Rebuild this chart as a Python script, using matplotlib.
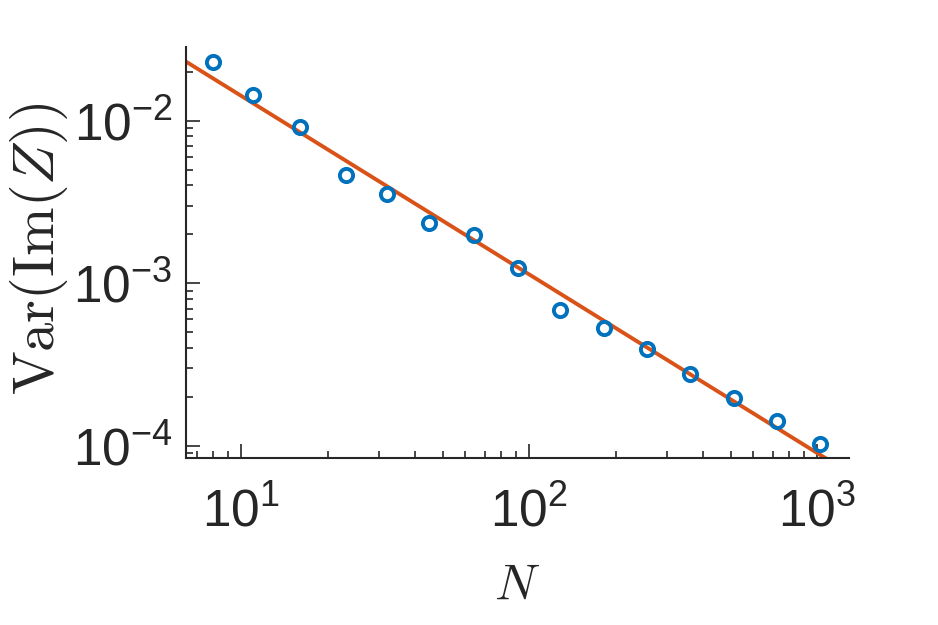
import numpy as np
import matplotlib
matplotlib.use("Agg")
import matplotlib.pyplot as plt
from matplotlib.ticker import LogLocator, NullFormatter

# --- dados ---
N = [8, 11, 16, 23, 32, 45, 64, 91, 128, 181, 256, 362, 512, 724, 1024]
var_im = [0.0229, 0.01445, 0.0091, 0.00466, 0.00356, 0.00234, 0.00198,
          0.00125, 6.86e-4, 5.34e-4, 3.95e-4, 2.76e-4, 1.975e-4, 1.42e-4, 1.03e-4]

# ajuste em lei de potência: Var = coef * N^expoente
fit_coef = 0.178
fit_exp = -1.098
fit_N = [6.0, 1300.0]

azul = '#0072BD'
laranja = '#D95319'

plt.rcParams['font.family'] = ['Liberation Sans', 'DejaVu Sans']
plt.rcParams['mathtext.fontset'] = 'custom'
plt.rcParams['mathtext.rm'] = 'Liberation Sans'
plt.rcParams['axes.unicode_minus'] = False

fig = plt.figure(figsize=(9.38, 6.25), dpi=100)
ax = fig.add_axes([0.1986, 0.2667, 0.7062, 0.6581])

fit_N = np.array(fit_N)
ax.plot(fit_N, fit_coef * fit_N ** fit_exp, color=laranja, linewidth=2.8, zorder=2)
ax.plot(N, var_im, 'o', markerfacecolor='none', markeredgecolor=azul,
        markeredgewidth=2.8, markersize=9.5, zorder=3)

ax.set_xscale('log')
ax.set_yscale('log')
ax.set_xlim(6.44, 1285)
ax.set_ylim(8.4e-5, 0.0284)

ax.xaxis.set_major_locator(LogLocator(base=10, numticks=10))
ax.yaxis.set_major_locator(LogLocator(base=10, numticks=10))
ax.xaxis.set_minor_locator(LogLocator(base=10, subs=np.arange(2, 10), numticks=10))
ax.yaxis.set_minor_locator(LogLocator(base=10, subs=np.arange(2, 10), numticks=10))
ax.xaxis.set_minor_formatter(NullFormatter())
ax.yaxis.set_minor_formatter(NullFormatter())

for s in ['top', 'right']:
    ax.spines[s].set_visible(False)
for s in ['left', 'bottom']:
    ax.spines[s].set_linewidth(1.5)
    ax.spines[s].set_color('#262626')

ax.tick_params(which='both', direction='in', color='#262626', width=1.2)
ax.tick_params(which='major', length=10, labelsize=37, labelcolor='#262626')
ax.tick_params(which='minor', length=5)
ax.tick_params(axis='y', which='major', pad=10)
ax.tick_params(axis='x', which='major', pad=21)

ax.set_xlabel(r'$N$', fontsize=36, color='#262626', math_fontfamily='cm')
ax.set_ylabel(r'$\mathrm{Var}(\mathrm{Im}(Z))$', fontsize=42, color='#262626',
              math_fontfamily='cm', va='center')
ax.xaxis.set_label_coords(0.50, -0.255)
ax.yaxis.set_label_coords(-0.222, 0.51)

fig.savefig('out.png', dpi=100)
